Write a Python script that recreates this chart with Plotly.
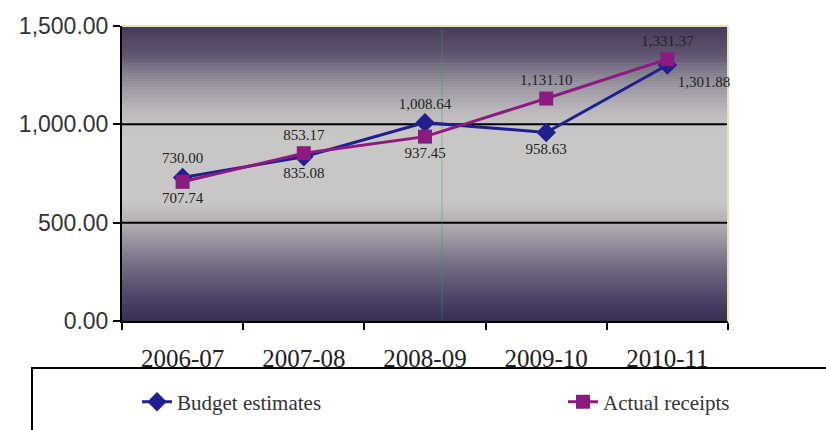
import plotly.graph_objects as go

categories = ["2006-07", "2007-08", "2008-09", "2009-10", "2010-11"]
budget_estimates = [730.00, 835.08, 1008.64, 958.63, 1301.88]
actual_receipts = [707.74, 853.17, 937.45, 1131.10, 1331.37]
y_ticks = [0, 500, 1000, 1500]
grid_values = [500, 1000]

budget_pos = ["top center", "bottom center", "top center", "bottom center", "bottom right"]
actual_pos = ["bottom center", "top center", "bottom center", "top center", "top center"]

fig = go.Figure()
fig.add_trace(go.Scatter(
    x=categories, y=budget_estimates, name="Budget estimates",
    mode="lines+markers+text",
    line=dict(color="#1f1f8f", width=3),
    marker=dict(symbol="diamond", size=15, color="#1f1f8f"),
    text=[f"{v:,.2f}" for v in budget_estimates],
    textposition=budget_pos,
    textfont=dict(family="Liberation Serif", size=15, color="#222222"),
    cliponaxis=False,
    legend="legend",
))
fig.add_trace(go.Scatter(
    x=categories, y=actual_receipts, name="Actual receipts",
    mode="lines+markers+text",
    line=dict(color="#8c1a80", width=3),
    marker=dict(symbol="square", size=14, color="#8c1a80"),
    text=[f"{v:,.2f}" for v in actual_receipts],
    textposition=actual_pos,
    textfont=dict(family="Liberation Serif", size=15, color="#222222"),
    cliponaxis=False,
    legend="legend2",
))

# gradient background (Excel "horizon"-like) as stacked bands
stops = [(0.0, (70, 56, 88)), (0.1, (96, 86, 112)), (0.2, (150, 145, 156)),
         (0.3, (190, 187, 190)), (0.36, (201, 199, 198)), (0.6, (200, 198, 198)),
         (0.68, (176, 171, 176)), (0.8, (122, 114, 136)), (0.9, (86, 76, 110)),
         (1.0, (56, 46, 86))]

def color_at(t):
    for (a, ca), (b, cb) in zip(stops[:-1], stops[1:]):
        if a <= t <= b:
            f = (t - a) / (b - a) if b > a else 0
            c = [round(ca[k] + (cb[k] - ca[k]) * f) for k in range(3)]
            return f"rgb({c[0]},{c[1]},{c[2]})"
    return "rgb(56,46,86)"

N = 148
shapes = []
for i in range(N):
    t = (i + 0.5) / N  # from top
    shapes.append(dict(type="rect", xref="paper", yref="paper",
                       x0=0, x1=1, y0=1 - (i + 1) / N, y1=1 - i / N + 0.002,
                       fillcolor=color_at(t), line=dict(width=0), layer="below"))
for g in grid_values:
    shapes.append(dict(type="line", xref="paper", yref="y", x0=0, x1=1, y0=g, y1=g,
                       line=dict(color="black", width=2), layer="below"))
# faint scanner line and light border
shapes.append(dict(type="line", xref="paper", yref="paper", x0=0.528, x1=0.528, y0=0, y1=1,
                   line=dict(color="rgba(40,170,60,0.45)", width=1), layer="below"))
shapes.append(dict(type="line", xref="paper", yref="paper", x0=0, x1=1, y0=1, y1=1,
                   line=dict(color="#e6e2b8", width=2), layer="below"))
shapes.append(dict(type="line", xref="paper", yref="paper", x0=1, x1=1, y0=0, y1=1,
                   line=dict(color="#e6e2b8", width=2), layer="below"))
# legend box
shapes.append(dict(type="rect", xref="paper", yref="paper",
                   x0=(32 - 122) / 606, x1=1.3, y0=-0.6, y1=(321 - 368) / 295,
                   line=dict(color="black", width=2), fillcolor="rgba(0,0,0,0)"))

fig.update_layout(
    width=826, height=430,
    margin=dict(l=122, r=98, t=26, b=109, autoexpand=False),
    paper_bgcolor="white", plot_bgcolor="white",
    font=dict(family="Liberation Serif, serif", color="#333333"),
    shapes=shapes,
    showlegend=True,
    legend=dict(orientation="h", x=(137 - 122) / 606, xanchor="left",
                y=(321 - 402) / 295, yanchor="middle",
                font=dict(family="Liberation Serif, serif", size=21, color="#333333"),
                bgcolor="rgba(0,0,0,0)"),
    legend2=dict(orientation="h", x=(563 - 122) / 606, xanchor="left",
                 y=(321 - 402) / 295, yanchor="middle",
                 font=dict(family="Liberation Serif, serif", size=21, color="#333333"),
                 bgcolor="rgba(0,0,0,0)"),
    xaxis=dict(type="category", range=[-0.5, 4.5], tickson="boundaries",
               ticks="outside", ticklen=7, tickwidth=2, tickcolor="black",
               showline=True, linecolor="black", linewidth=2, showgrid=False,
               automargin=False, ticklabelstandoff=14,
               tickfont=dict(family="Liberation Serif", size=25, color="#222222")),
    yaxis=dict(range=[0, 1500], tickvals=y_ticks, tickformat=",.2f",
               ticks="outside", ticklen=7, tickwidth=2, tickcolor="black",
               showline=True, linecolor="black", linewidth=2, showgrid=False,
               zeroline=False, automargin=False,
               tickfont=dict(family="Liberation Sans", size=23, color="#333333")),
)

fig.write_html("out.html")
